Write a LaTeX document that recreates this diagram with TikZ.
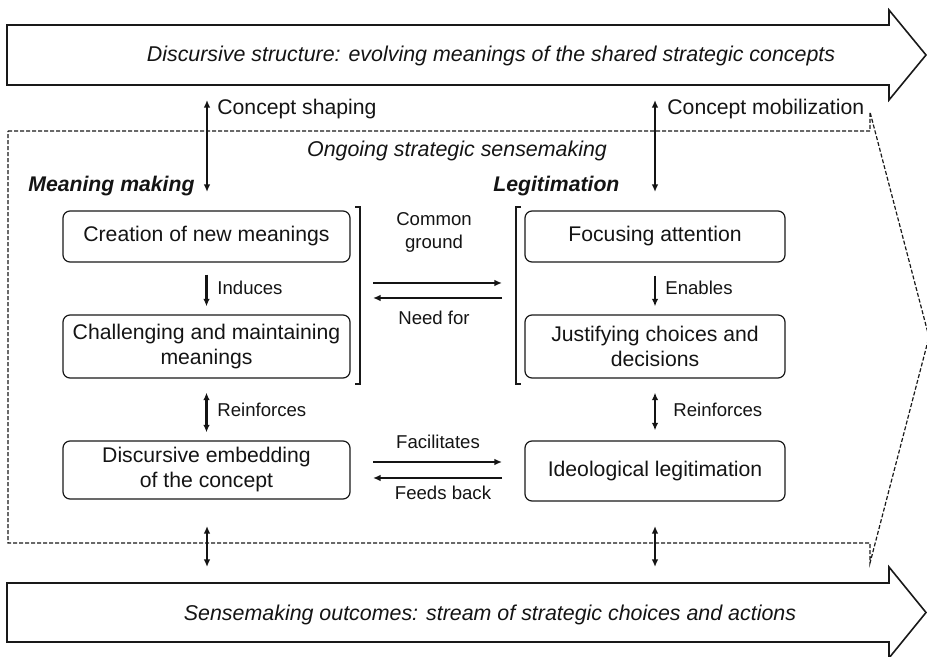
\documentclass[tikz,border=0pt]{standalone}
\usepackage{fontspec}
\setmainfont{Liberation Sans}
\usetikzlibrary{arrows.meta}
\begin{document}
\begin{tikzpicture}[x=0.5pt,y=-0.5pt,
  every node/.style={text=black!92},
  bigarrow/.style={draw=black!90, line width=0.8pt, line join=miter},
  box/.style={draw=black!90, line width=0.6pt, rounded corners=3.5pt, align=center, inner sep=0pt, font=\fontsize{10.6}{12.5}\selectfont},
  lbox/.style={box, minimum width=143.5pt},
  rbox/.style={box, minimum width=130pt},
  lbl/.style={font=\fontsize{9.3}{11.5}\selectfont, inner sep=0pt, align=center},
  toplbl/.style={font=\fontsize{10.6}{12.5}\selectfont, inner sep=0pt},
  big/.style={font=\fontsize{10.7}{12.5}\selectfont\itshape, inner sep=0pt},
  head/.style={font=\fontsize{10.6}{12.5}\selectfont\bfseries\itshape, inner sep=0pt},
  con/.style={draw=black!92, line width=1.1pt, -{Latex[length=3.8pt,width=3.3pt]}},
  dcon/.style={draw=black!92, line width=1.1pt, {Latex[length=3.8pt,width=3.3pt]}-{Latex[length=3.8pt,width=3.3pt]}},
  region/.style={draw=black!90, line width=0.6pt, dash pattern=on 2pt off 1pt},
  brk/.style={draw=black!90, line width=0.8pt}
]
\useasboundingbox (0,0) rectangle (927,657);

% big arrows
\draw[bigarrow] (7,25) -- (889,25) -- (889,10) -- (926,55) -- (889,100) -- (889,85) -- (7,85) -- cycle;
\node[big, anchor=base] (toptxt) at (491,62) {Discursive structure: evolving meanings of the shared strategic concepts};

\draw[bigarrow] (7,583) -- (889,583) -- (889,567) -- (926,612.5) -- (889,658) -- (889,642) -- (7,642) -- cycle;
\node[big, anchor=base] (bottxt) at (490,620) {Sensemaking outcomes: stream of strategic choices and actions};

% dashed region
\draw[region] (8,131) -- (870,131) -- (870,112) -- (929,337) -- (870,563) -- (870,543) -- (8,543) -- cycle;
\node[big, anchor=base] (ongoing) at (457,157) {Ongoing strategic sensemaking};

% headings
\node[head, anchor=base west] (mm) at (28,192) {Meaning making};
\node[head, anchor=base west] (leg) at (493,192) {Legitimation};

% top links
\coordinate (cs1) at (207,100);
\coordinate (cs2) at (207,192);
\draw[dcon] (cs1) -- (cs2);
\node[toplbl, anchor=base west] (csl) at (217,115) {Concept shaping};
\coordinate (cm1) at (655,100);
\coordinate (cm2) at (655,192);
\draw[dcon] (cm1) -- (cm2);
\node[toplbl, anchor=base west] (cml) at (667,115) {Concept mobilization};

% boxes left
\node[lbox, minimum height=25.5pt] (c1) at (206.5,236.5) {Creation of new meanings};
\node[lbox, minimum height=31.5pt] (c2) at (206.5,346.5) {Challenging and maintaining\\meanings};
\node[lbox, minimum height=29pt] (c3) at (206.5,470) {Discursive embedding\\of the concept};

% boxes right
\node[rbox, minimum height=25.5pt] (r1) at (655,236.5) {Focusing attention};
\node[rbox, minimum height=31.5pt] (r2) at (655,346.5) {Justifying choices and\\decisions};
\node[rbox, minimum height=30pt] (r3) at (655,471) {Ideological legitimation};

% vertical links
\draw[con, shorten <=6pt, shorten >=4pt] (c1) -- (c2);
\node[lbl, anchor=base west] (ind) at (217,295) {Induces};
\draw[con, shorten <=6.5pt, shorten >=4pt] (r1) -- (r2);
\node[lbl, anchor=base west] (ena) at (665,295) {Enables};
\draw[dcon, shorten <=7pt, shorten >=4pt] (c2) -- (c3);
\node[lbl, anchor=base west] (rl) at (217,417) {Reinforces};
\draw[dcon, shorten <=7pt, shorten >=5pt] (r2) -- (r3);
\node[lbl, anchor=base west] (rr) at (673,417) {Reinforces};

% bottom links
\coordinate (bl1) at (207,526);
\coordinate (bl2) at (207,567);
\draw[dcon] (bl1) -- (bl2);
\coordinate (br1) at (655,526);
\coordinate (br2) at (655,567);
\draw[dcon] (br1) -- (br2);

% brackets
\draw[brk] (355,207) -- (360,207) -- (360,384) -- (355,384);
\draw[brk] (521,207) -- (516,207) -- (516,384) -- (521,384);

% horizontal links
\coordinate (h1a) at (373,283);
\coordinate (h1b) at (502,283);
\coordinate (h2a) at (502,298);
\coordinate (h2b) at (373,298);
\draw[con] (h1a) -- (h1b);
\draw[con] (h2a) -- (h2b);
\node[lbl, anchor=base] (cg) at (434,249) {Common\\ground};
\node[lbl, anchor=base] (nf) at (434,325) {Need for};

\coordinate (h3a) at (373,462);
\coordinate (h3b) at (502,462);
\coordinate (h4a) at (502,478);
\coordinate (h4b) at (373,478);
\draw[con] (h3a) -- (h3b);
\draw[con] (h4a) -- (h4b);
\node[lbl, anchor=base] (fac) at (438,449) {Facilitates};
\node[lbl, anchor=base] (fb) at (443,500) {Feeds back};
\end{tikzpicture}
\end{document}
